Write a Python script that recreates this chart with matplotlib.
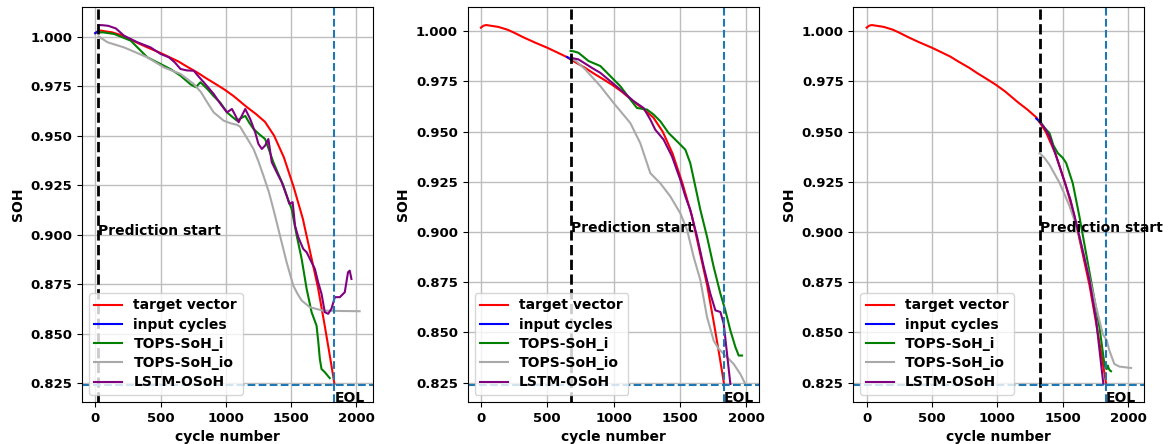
import matplotlib
matplotlib.use("Agg")
import matplotlib.pyplot as plt
from matplotlib.ticker import MultipleLocator

plt.rcParams['font.family'] = ['DejaVu Sans']
plt.rcParams['font.weight'] = 'bold'
plt.rcParams['axes.labelweight'] = 'bold'

# ---------------- data ----------------
eol_cycle = 1832
eol_soh = 0.824
pred_starts = [25, 676, 1323]

target_cycles = [0, 20, 40, 80, 130, 200, 250, 320, 400, 500, 580, 640, 700, 780, 850, 920,
                 990, 1060, 1160, 1230, 1300, 1370, 1445, 1520, 1590, 1650, 1705, 1755, 1800,
                 1832]
target_soh = [1.0018, 1.0028, 1.0031, 1.0027, 1.0022, 1.0008, 0.9993, 0.9970, 0.9946, 0.9918,
              0.9893, 0.9874, 0.9850, 0.9820, 0.9790, 0.9762, 0.9733, 0.9700, 0.9645, 0.9610,
              0.9570, 0.9500, 0.9390, 0.9240, 0.9080, 0.8900, 0.8735, 0.8550, 0.8375, 0.8245]

# panel 1 (prediction start ~25)
p1_input_cycles = [0, 25]
p1_input_soh = [1.0018, 1.0029]
p1_i_cycles = [25, 60, 145, 272, 399, 501, 580, 653, 729, 770, 806, 860, 907, 960, 1009, 1050,
               1085, 1120, 1149, 1180, 1212, 1260, 1301, 1330, 1364, 1400, 1441, 1470, 1504,
               1543, 1581, 1619, 1657, 1695, 1708, 1720, 1733, 1758, 1796]
p1_i_soh = [1.0022, 1.0022, 1.0014, 0.9980, 0.9896, 0.9862, 0.9835, 0.9803, 0.9760, 0.9745,
            0.9770, 0.9735, 0.9700, 0.9665, 0.9618, 0.9595, 0.9576, 0.9590, 0.9600, 0.9565,
            0.9534, 0.9505, 0.9483, 0.9430, 0.9366, 0.9310, 0.9248, 0.9190, 0.9130, 0.8995,
            0.8877, 0.8726, 0.8608, 0.8540, 0.8460, 0.8372, 0.8321, 0.8305, 0.8275]
p1_io_cycles = [25, 94, 221, 399, 526, 653, 755, 810, 857, 907, 983, 1040, 1085, 1110, 1160,
                1212, 1250, 1288, 1330, 1364, 1415, 1466, 1517, 1550, 1581, 1644, 1745, 1900,
                2025]
p1_io_soh = [1.0002, 0.9972, 0.9946, 0.9896, 0.9845, 0.9812, 0.9761, 0.9720, 0.9669, 0.9618,
             0.9576, 0.9562, 0.9555, 0.9545, 0.9490, 0.9433, 0.9370, 0.9298, 0.9215, 0.9130,
             0.8995, 0.8860, 0.8742, 0.8700, 0.8667, 0.8633, 0.8616, 0.8614, 0.8613]
p1_lstm_cycles = [25, 60, 100, 158, 221, 323, 424, 501, 564, 610, 653, 700, 755, 790, 831, 907,
                  960, 1009, 1047, 1075, 1098, 1110, 1149, 1187, 1225, 1250, 1276, 1301, 1326,
                  1352, 1390, 1428, 1466, 1487, 1512, 1530, 1555, 1593, 1619, 1657, 1682, 1707,
                  1733, 1758, 1784, 1809, 1835, 1873, 1911, 1936, 1949, 1962]
p1_lstm_soh = [1.0059, 1.0058, 1.0055, 1.0042, 1.0005, 0.9972, 0.9946, 0.9913, 0.9896, 0.9870,
               0.9837, 0.9830, 0.9828, 0.9800, 0.9770, 0.9711, 0.9660, 0.9618, 0.9635, 0.9600,
               0.9568, 0.9584, 0.9635, 0.9584, 0.9517, 0.9458, 0.9433, 0.9450, 0.9483, 0.9366,
               0.9315, 0.9265, 0.9197, 0.9155, 0.9164, 0.9046, 0.8987, 0.8928, 0.8911, 0.8860,
               0.8827, 0.8760, 0.8701, 0.8608, 0.8600, 0.8625, 0.8684, 0.8684, 0.8709, 0.8810,
               0.8818, 0.8776]

# panel 2 (prediction start ~676)
p2_input_cycles = [650, 676]
p2_input_soh = [0.9872, 0.9862]
p2_i_cycles = [676, 700, 735, 811, 900, 975, 1050, 1126, 1176, 1252, 1302, 1352, 1415, 1478,
               1541, 1578, 1616, 1654, 1704, 1754, 1805, 1842, 1880, 1918, 1943, 1968]
p2_i_soh = [0.9902, 0.9900, 0.9893, 0.9852, 0.9827, 0.9777, 0.9727, 0.9660, 0.9618, 0.9610,
            0.9585, 0.9552, 0.9493, 0.9452, 0.9410, 0.9343, 0.9227, 0.9110, 0.8977, 0.8827,
            0.8693, 0.8610, 0.8510, 0.8427, 0.8385, 0.8385]
p2_io_cycles = [676, 720, 786, 900, 1000, 1126, 1201, 1277, 1352, 1428, 1503, 1554, 1603, 1654,
                1704, 1754, 1790, 1830, 1905, 1955, 1993]
p2_io_soh = [0.9868, 0.9850, 0.9810, 0.9727, 0.9643, 0.9543, 0.9443, 0.9293, 0.9243, 0.9177,
             0.9093, 0.9010, 0.8877, 0.8760, 0.8577, 0.8460, 0.8420, 0.8393, 0.8343, 0.8293,
             0.8243]
p2_lstm_cycles = [676, 735, 836, 900, 1050, 1151, 1226, 1277, 1314, 1377, 1440, 1503, 1541,
                  1578, 1629, 1679, 1729, 1767, 1790, 1805, 1830, 1855, 1880]
p2_lstm_soh = [0.9868, 0.9860, 0.9818, 0.9793, 0.9710, 0.9652, 0.9618, 0.9560, 0.9510, 0.9460,
               0.9377, 0.9260, 0.9177, 0.9110, 0.8977, 0.8827, 0.8693, 0.8610, 0.8605, 0.8602,
               0.8543, 0.8393, 0.8243]

# panel 3 (prediction start ~1323)
p3_input_cycles = [1298, 1323]
p3_input_soh = [0.9565, 0.9550]
p3_i_cycles = [1323, 1360, 1399, 1430, 1463, 1500, 1527, 1577, 1628, 1679, 1730, 1781, 1819,
               1830, 1837, 1845, 1852, 1862, 1870]
p3_i_soh = [0.9555, 0.9520, 0.9493, 0.9430, 0.9393, 0.9370, 0.9343, 0.9243, 0.9077, 0.8893,
            0.8710, 0.8527, 0.8343, 0.8320, 0.8318, 0.8335, 0.8320, 0.8310, 0.8307]
p3_io_cycles = [1323, 1360, 1399, 1476, 1552, 1620, 1679, 1756, 1806, 1837, 1857, 1895, 1934,
                2023]
p3_io_soh = [0.9393, 0.9370, 0.9335, 0.9245, 0.9130, 0.9000, 0.8843, 0.8627, 0.8493, 0.8460,
             0.8410, 0.8343, 0.8330, 0.8323]
p3_lstm_cycles = [1323, 1360, 1399, 1476, 1560, 1628, 1705, 1756, 1811]
p3_lstm_soh = [0.9550, 0.9520, 0.9477, 0.9327, 0.9160, 0.8977, 0.8760, 0.8560, 0.8243]

panels = [
    (p1_input_cycles, p1_input_soh, p1_i_cycles, p1_i_soh, p1_io_cycles, p1_io_soh,
     p1_lstm_cycles, p1_lstm_soh),
    (p2_input_cycles, p2_input_soh, p2_i_cycles, p2_i_soh, p2_io_cycles, p2_io_soh,
     p2_lstm_cycles, p2_lstm_soh),
    (p3_input_cycles, p3_input_soh, p3_i_cycles, p3_i_soh, p3_io_cycles, p3_io_soh,
     p3_lstm_cycles, p3_lstm_soh),
]

# ---------------- plot ----------------
fig, axes = plt.subplots(1, 3, figsize=(11.68, 4.44), dpi=100)
fig.subplots_adjust(left=0.0702, right=0.9797, bottom=0.0946, top=0.984, wspace=0.326)

for ax, start, (inc, ins, ic, isoh, ioc, iosoh, lc, ls) in zip(axes, pred_starts, panels):
    ax.plot(target_cycles, target_soh, color='red', lw=1.5, label='target vector')
    ax.plot(inc, ins, color='blue', lw=1.5, label='input cycles')
    ax.plot(ic, isoh, color='green', lw=1.5, label='TOPS-SoH_i')
    ax.plot(ioc, iosoh, color='darkgray', lw=1.5, label='TOPS-SoH_io')
    ax.plot(lc, ls, color='purple', lw=1.5, label='LSTM-OSoH')
    ax.axvline(start, color='black', ls='--', lw=2)
    ax.axvline(eol_cycle, color='#1f77b4', ls='--', lw=1.5)
    ax.axhline(eol_soh, color='#1f77b4', ls='--', lw=1.5)
    ax.text(start, 0.9, 'Prediction start', fontsize=10, fontweight='bold')
    ax.text(eol_cycle, 0.8152, 'EOL', fontsize=10, fontweight='bold')
    ax.xaxis.set_major_locator(MultipleLocator(500))
    ax.yaxis.set_major_locator(MultipleLocator(0.025))
    ax.grid(True, color='#bdbdbd', lw=1)
    ax.set_axisbelow(True)
    ax.tick_params(labelsize=9.5)
    ax.set_xlabel('cycle number', fontsize=10, fontweight='bold')
    ax.set_ylabel('SOH', fontsize=10, fontweight='bold')
    ax.legend(loc='lower left', fontsize=10, labelspacing=0.38)

fig.savefig('out.png', dpi=100)
